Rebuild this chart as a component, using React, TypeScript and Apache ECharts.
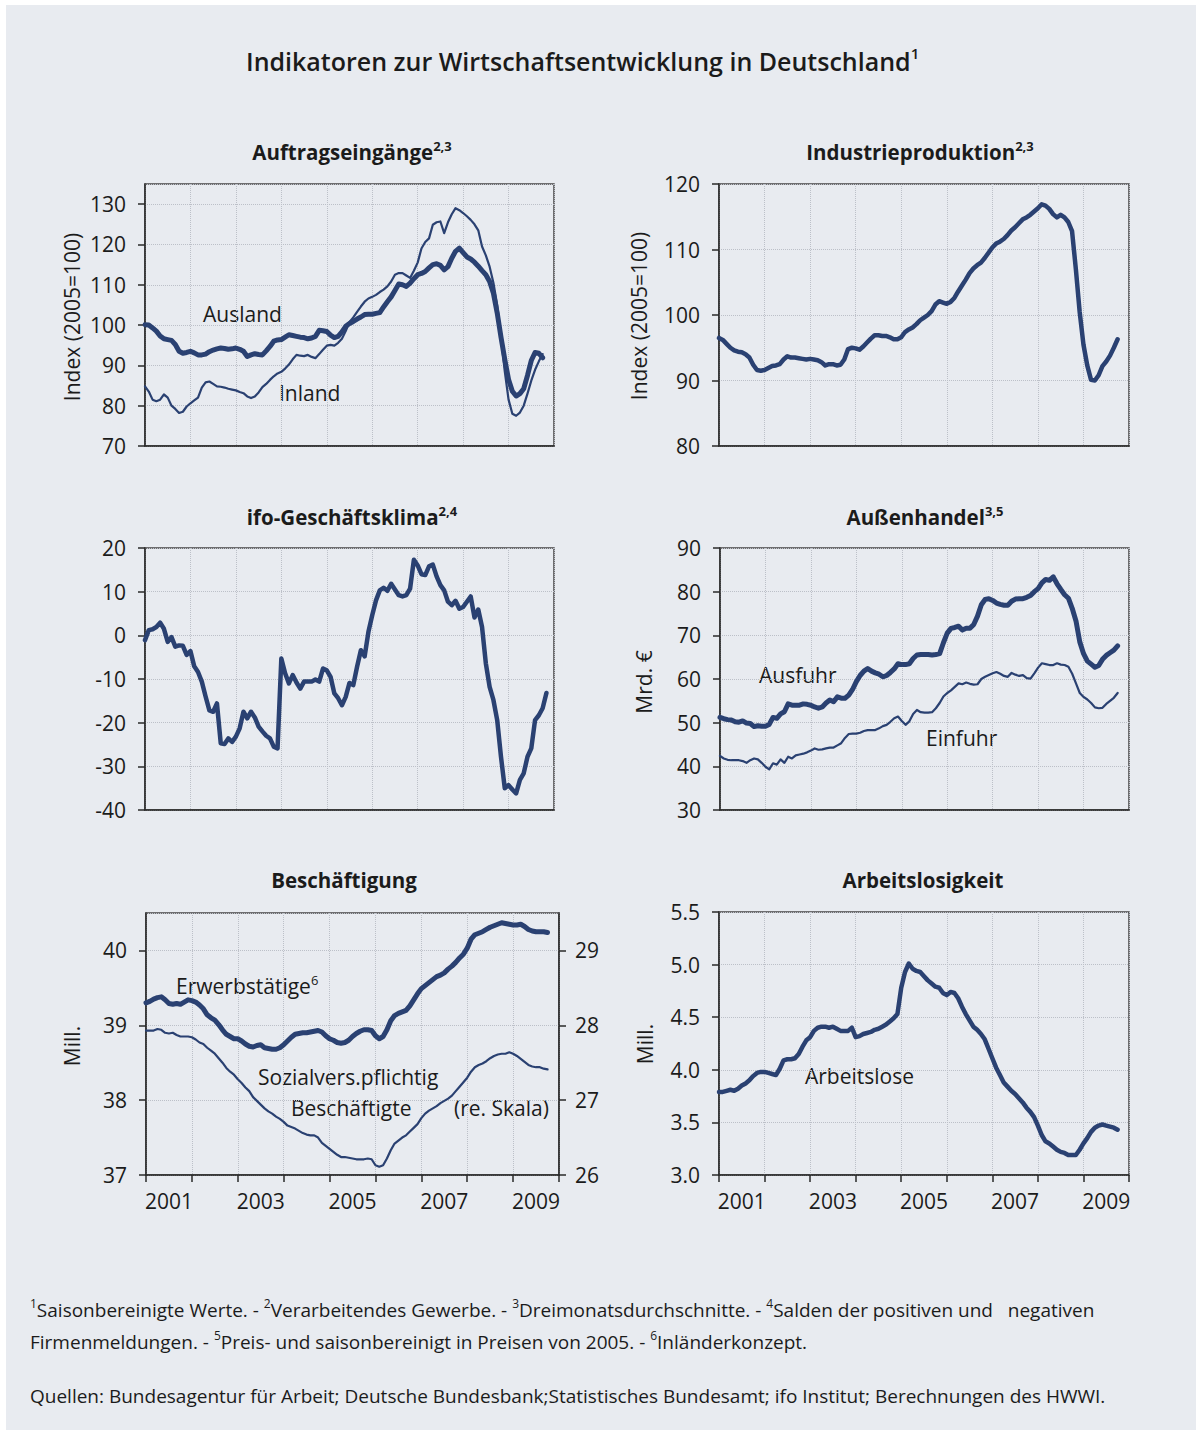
import React, { useEffect, useRef } from 'react';
import * as echarts from 'echarts';

const YEARS = ['2001', '2002', '2003', '2004', '2005', '2006', '2007', '2008', '2009'];

const AUSLAND = [100.1,100,99.3,98.5,97.3,96.6,96.4,96.2,95.2,93.5, 93,93.2,93.5,93.1,92.6,92.6,92.8,93.4,93.8,94.1, 94.3,94.2,94,94.1,94.3,94,93.5,92.2,92.6,92.9, 92.7,92.6,93.6,94.7,96,96.3,96.4,97,97.6,97.4, 97.2,97,96.9,96.6,96.8,97.2,98.7,98.6,98.4,97.5, 96.9,97.2,98.3,99.7,100.4,100.9,101.5,102,102.6,102.7, 102.7,102.9,103.1,104.5,105.8,107,108.6,110.2,110,109.6, 110.4,111.5,112.5,112.8,113.3,114.2,115,115.2,114.8,113.7, 114.5,116.6,118.3,119.1,118,116.9,116.4,115.6,114.6,113.5, 112.5,110.8,107.9,103,97,91.5,86.5,83.6,82.4,83, 84.2,87.5,91.2,93.2,93,91.9];
const INLAND = [84.8,83.5,81.5,81.1,81.5,82.8,82,80,79.2,78.2, 78.5,79.8,80.6,81.3,82,84.5,85.8,86,85.4,84.8, 84.7,84.5,84.2,84,83.8,83.4,83.1,82.3,81.9,82.3, 83.3,84.6,85.4,86.4,87.3,88,88.4,89.2,90.2,91.5, 92.6,92.4,92.3,92.6,92.1,91.8,92.8,93.9,94.9,95.1, 94.9,95.6,96.6,98.5,100.8,101.9,103.3,104.6,105.8,106.6, 107,107.5,108.2,108.8,109.6,110.8,112.5,112.9,112.9,112.3, 111.7,113.5,115.5,119,120.6,121.5,124.9,125.5,125.7,122.8, 125.5,127.5,129,128.5,127.8,127,126.1,125,123.5,119.5, 117.3,114.5,110.5,105,97,88.5,81.5,78,77.5,78.3, 80,83,86.2,88.9,91,92.8];
const INDUSTRIE = [96.5,96.2,95.6,95,94.6,94.4,94.3,94,93.5,92.4, 91.6,91.5,91.6,91.9,92.2,92.3,92.5,93.2,93.7,93.5, 93.5,93.4,93.3,93.2,93.3,93.2,93.1,92.8,92.3,92.5, 92.5,92.3,92.4,93.2,94.8,95,94.9,94.7,95.2,95.8, 96.4,96.9,96.9,96.8,96.8,96.6,96.3,96.3,96.6,97.4, 97.8,98.1,98.6,99.2,99.6,100,100.6,101.6,102.1,101.9, 101.7,102,102.6,103.6,104.5,105.4,106.4,107.1,107.6,108, 108.7,109.5,110.3,110.9,111.2,111.6,112.2,112.9,113.4,114, 114.6,114.9,115.3,115.8,116.3,116.9,116.7,116.2,115.4,114.9, 115.3,114.9,114.2,112.8,107,100.5,95.5,92.3,90.1,90, 90.8,92.2,92.9,93.8,95,96.3];
const IFO = [-1.1,1.2,1.4,1.9,2.9,1.5,-1.5,-0.4,-2.6,-2.3, -2.4,-4.5,-3.6,-7.1,-8.4,-10.6,-14,-17.2,-17.5,-15.6, -24.7,-24.9,-23.6,-24.4,-23.2,-21.3,-17.5,-19,-17.5,-18.8, -20.9,-22,-23,-23.6,-25.5,-25.9,-5.3,-8.7,-11,-9.1, -10.8,-12.2,-10.6,-10.6,-10.6,-10.1,-10.6,-7.6,-8,-9.5, -13.3,-14.4,-16,-14.1,-10.9,-11.4,-7.2,-3.4,-4.8,0.8, 4.6,8,10.3,10.9,10.2,11.8,10.5,9.2,8.9,9.2, 10.7,17.3,16,14,13.8,15.8,16.2,13.5,11.5,10.3, 7.7,6.9,7.9,6.1,6.5,7.7,8.9,4.1,5.9,1.9, -6.4,-11.8,-14.8,-19.4,-27.8,-35,-34.3,-35.3,-36.2,-33.1, -31.6,-27.8,-25.9,-19.4,-18.3,-16.7,-13.2];
const AUSFUHR = [51.2,50.9,50.7,50.6,50.2,50.1,50.4,49.9,49.8,49.1, 49.3,49.2,49.2,49.6,51.2,51,52,52.5,54.3,54, 54,54,54.3,54.2,54,53.6,53.3,53.6,54.5,55.2, 54.8,55.9,55.6,55.6,56.3,57.6,59.4,60.8,61.8,62.4, 61.8,61.4,61.1,60.5,60.8,61.5,62.3,63.5,63.3,63.3, 63.5,64.7,65.5,65.6,65.6,65.6,65.5,65.6,65.8,68.3, 70.5,71.6,71.8,72.1,71.2,71.6,71.6,72.5,74.4,77, 78.2,78.4,78,77.4,77.1,76.9,76.9,77.8,78.3,78.4, 78.4,78.7,79.1,80,80.7,82,82.8,82.6,83.4,81.8, 80.5,79.3,78.5,76.2,73.3,68.5,65.8,64.1,63.4,62.7, 63.1,64.5,65.4,66,66.6,67.6];
const EINFUHR = [42.4,41.8,41.5,41.4,41.4,41.4,41.2,40.8,41.4,41.8, 41.6,40.8,39.9,39.3,40.7,40.4,41.6,40.8,42.2,41.8, 42.5,42.7,42.9,43.2,43.6,44.1,43.8,43.9,44.1,44.3, 44.3,44.8,45.3,46.5,47.4,47.5,47.5,47.7,48.1,48.3, 48.3,48.3,48.7,49.2,49.5,50.2,51,51.4,50.4,49.5, 50.3,52,52.9,52.4,52.3,52.3,52.4,53.3,54.5,56, 56.8,57.4,58.2,59,58.8,59.2,58.9,58.7,58.8,60, 60.5,60.9,61.3,61.6,61.2,60.7,60.5,61.4,61,60.7, 60.9,60.2,60.1,61.3,62.6,63.6,63.4,63.2,63.2,63.6, 63.3,63.2,62.8,61.2,59,56.8,55.9,55.3,54.5,53.5, 53.3,53.4,54.3,55,55.7,56.8];
const ERWERB = [39.30,39.32,39.35,39.37,39.38,39.34,39.29,39.28,39.29,39.28, 39.31,39.34,39.33,39.31,39.27,39.22,39.14,39.1,39.07,39.01, 38.94,38.88,38.85,38.82,38.82,38.79,38.75,38.72,38.71,38.73, 38.74,38.7,38.69,38.68,38.68,38.7,38.74,38.79,38.84,38.88, 38.89,38.9,38.9,38.91,38.92,38.93,38.91,38.86,38.82,38.8, 38.77,38.76,38.77,38.8,38.85,38.89,38.92,38.94,38.94,38.93, 38.86,38.82,38.85,38.94,39.06,39.13,39.16,39.18,39.2,39.26, 39.34,39.42,39.49,39.53,39.57,39.61,39.65,39.67,39.7,39.75, 39.79,39.84,39.9,39.95,40.03,40.15,40.21,40.23,40.25,40.28, 40.31,40.33,40.35,40.37,40.36,40.35,40.34,40.34,40.35,40.32, 40.28,40.26,40.25,40.25,40.25,40.24];
const SOZIAL = [27.93,27.93,27.93,27.95,27.94,27.9,27.89,27.9,27.87,27.85, 27.85,27.85,27.84,27.81,27.77,27.75,27.7,27.66,27.62,27.56, 27.5,27.43,27.38,27.34,27.28,27.23,27.17,27.12,27.04,26.99, 26.94,26.89,26.85,26.82,26.78,26.75,26.71,26.66,26.64,26.62, 26.59,26.56,26.54,26.53,26.53,26.5,26.43,26.39,26.35,26.31, 26.27,26.24,26.24,26.23,26.22,26.21,26.21,26.21,26.22,26.21, 26.13,26.11,26.13,26.22,26.33,26.42,26.46,26.5,26.53,26.58, 26.63,26.68,26.76,26.82,26.86,26.89,26.92,26.96,26.99,27.02, 27.06,27.12,27.18,27.24,27.3,27.38,27.44,27.47,27.49,27.52, 27.56,27.59,27.61,27.62,27.62,27.64,27.62,27.59,27.55,27.51, 27.47,27.45,27.44,27.44,27.42,27.41];
const ARBEITSLOSE = [3.79,3.79,3.8,3.81,3.8,3.82,3.85,3.87,3.9,3.94, 3.97,3.98,3.98,3.97,3.96,3.95,4.01,4.09,4.1,4.1, 4.11,4.15,4.22,4.28,4.31,4.37,4.4,4.41,4.41,4.4, 4.41,4.39,4.37,4.37,4.37,4.4,4.31,4.32,4.34,4.35, 4.36,4.38,4.39,4.41,4.43,4.46,4.49,4.53,4.78,4.93, 5.01,4.96,4.94,4.93,4.89,4.85,4.82,4.79,4.78,4.73, 4.71,4.74,4.73,4.68,4.6,4.53,4.47,4.41,4.38,4.34, 4.29,4.2,4.11,4.02,3.95,3.88,3.84,3.8,3.77,3.73, 3.69,3.64,3.6,3.55,3.47,3.38,3.32,3.3,3.27,3.24, 3.22,3.21,3.19,3.19,3.19,3.24,3.3,3.35,3.41,3.45, 3.47,3.48,3.47,3.46,3.45,3.43];

const LINE = '#2a4172';
const FONT = '"Open Sans", "Noto Sans", sans-serif';
const TXT = '#1b1b1b';
const AXIS = '#2a2a2a';
const GRIDLINE = '#bcc0c8';

const GRIDS = [
  { left: 145, top: 184, width: 409, height: 262 },
  { left: 719, top: 184, width: 410, height: 262 },
  { left: 145, top: 548, width: 409, height: 262 },
  { left: 720, top: 548, width: 409, height: 262 },
  { left: 146, top: 913, width: 413, height: 262 },
  { left: 719, top: 912, width: 410, height: 263 },
];

function buildOption() {
  const grid = GRIDS.map((g) => ({
    ...g,
    show: true,
    borderColor: '#444',
    borderWidth: 1.5,
    backgroundColor: 'transparent',
  }));

  const xAxis: any[] = [];
  GRIDS.forEach((_, g) => {
    const bottom = g >= 4;
    xAxis.push({
      type: 'category',
      gridIndex: g,
      position: 'bottom',
      data: YEARS,
      boundaryGap: true,
      axisLine: { show: true, onZero: false, lineStyle: { color: AXIS, width: 1.5 } },
      axisTick: { show: bottom, interval: 0, length: 7, lineStyle: { color: AXIS, width: 1.5 } },
      axisLabel: { show: bottom, interval: 1, fontSize: 21, color: TXT, fontFamily: FONT, margin: 15 },
      splitLine: { show: true, interval: 0, lineStyle: { color: GRIDLINE, type: 'dotted', width: 1 } },
    });
    xAxis.push({ type: 'value', gridIndex: g, min: 0, max: 108, show: false, axisLine: { onZero: false } });
  });

  const yBase = (g: number, min: number, max: number, interval: number, extra: any = {}) => ({
    type: 'value',
    gridIndex: g,
    min,
    max,
    interval,
    axisLine: { show: true, onZero: false, lineStyle: { color: AXIS, width: 1.5 } },
    axisTick: { show: true, length: 7, lineStyle: { color: AXIS, width: 1.5 } },
    axisLabel: { fontSize: 21, color: TXT, fontFamily: FONT, margin: 19, ...(extra.axisLabel || {}) },
    splitLine: { show: true, lineStyle: { color: GRIDLINE, type: 'dotted', width: 1 } },
    ...(extra.rest || {}),
  });

  const yAxis = [
    yBase(0, 70, 135, 10, { axisLabel: { showMaxLabel: false } }),
    yBase(1, 80, 120, 10),
    yBase(2, -40, 20, 10),
    yBase(3, 30, 90, 10),
    yBase(4, 37, 40.5, 1, { axisLabel: { showMaxLabel: false } }),
    yBase(4, 26, 29.5, 1, {
      axisLabel: { showMaxLabel: false, margin: 16 },
      rest: { position: 'right', splitLine: { show: false } },
    }),
    yBase(5, 3, 5.5, 0.5, { axisLabel: { formatter: (v: number) => v.toFixed(1) } }),
  ];

  const line = (data: number[], g: number, yi: number, width: number) => ({
    type: 'line',
    xAxisIndex: 2 * g + 1,
    yAxisIndex: yi,
    data: data.map((v, i) => [i, v]),
    showSymbol: false,
    symbol: 'none',
    silent: true,
    lineStyle: { color: LINE, width, join: 'round', cap: 'round' },
    itemStyle: { color: LINE },
    z: 3,
  });

  const series = [
    line(INLAND, 0, 0, 2.2),
    line(AUSLAND, 0, 0, 5),
    line(INDUSTRIE, 1, 1, 4.5),
    line(IFO, 2, 2, 4.5),
    line(EINFUHR, 3, 3, 2.2),
    line(AUSFUHR, 3, 3, 5),
    line(SOZIAL, 4, 5, 2.2),
    line(ERWERB, 4, 4, 5),
    line(ARBEITSLOSE, 5, 6, 4.5),
  ];

  const text = (x: number, y: number, t: string, o: any = {}) => ({
    type: 'text',
    x,
    y,
    silent: true,
    rotation: o.rotation || 0,
    style: {
      text: t,
      fontFamily: FONT,
      fontSize: o.fontSize || 21,
      fontWeight: o.fontWeight || 'normal',
      fill: TXT,
      align: o.align || 'left',
      textAlign: o.align || 'left',
      verticalAlign: 'middle',
      textVerticalAlign: 'middle',
      rich: o.rich,
    },
  });

  const titleRich = (size: number, sup: number, weight: any) => ({
    t: { fontSize: size, fontWeight: weight, fontFamily: FONT, fill: TXT, color: TXT, lineHeight: size * 1.25 },
    s: { fontSize: sup, fontWeight: weight, fontFamily: FONT, fill: TXT, color: TXT, verticalAlign: 'top', lineHeight: sup * 1.2 },
  });
  const pt = (x: number, y: number, main: string, sup?: string) =>
    text(x, y, sup ? `{t|${main}}{s|${sup}}` : `{t|${main}}`, { align: 'center', rich: titleRich(20.5, 13, 'bold') });

  const fnRich = {
    t: { fontSize: 19, fontFamily: FONT, fill: TXT, color: TXT, lineHeight: 25 },
    s: { fontSize: 12, fontFamily: FONT, fill: TXT, color: TXT, verticalAlign: 'top', lineHeight: 14 },
  };

  const graphic = [
    { type: 'rect', silent: true, shape: { x: 0, y: 0, width: 1198, height: 5 }, style: { fill: '#ffffff' } },
    { type: 'rect', silent: true, shape: { x: 0, y: 0, width: 6, height: 1431 }, style: { fill: '#ffffff' } },
    { type: 'rect', silent: true, shape: { x: 1196, y: 0, width: 2, height: 1431 }, style: { fill: '#ffffff' } },
    { type: 'rect', silent: true, shape: { x: 0, y: 1430, width: 1198, height: 1 }, style: { fill: '#ffffff' } },
    text(246, 61, '{t|Indikatoren zur Wirtschaftsentwicklung in Deutschland}{s|1}', { rich: titleRich(25, 15, 600) }),
    pt(352, 152, 'Auftragseingänge', '2,3'),
    pt(920, 152, 'Industrieproduktion', '2,3'),
    pt(352, 517, 'ifo-Geschäftsklima', '2,4'),
    pt(925, 517, 'Außenhandel', '3,5'),
    pt(344, 880, 'Beschäftigung'),
    pt(923, 880, 'Arbeitslosigkeit'),
    text(72, 317, 'Index (2005=100)', { rotation: Math.PI / 2, align: 'center', fontSize: 21 }),
    text(639, 316, 'Index (2005=100)', { rotation: Math.PI / 2, align: 'center', fontSize: 21 }),
    text(644, 682, 'Mrd. €', { rotation: Math.PI / 2, align: 'center', fontSize: 21 }),
    text(72, 1046, 'Mill.', { rotation: Math.PI / 2, align: 'center', fontSize: 21 }),
    text(645, 1044, 'Mill.', { rotation: Math.PI / 2, align: 'center', fontSize: 21 }),
    text(203, 314, 'Ausland'),
    text(279, 393, 'Inland'),
    text(759, 675, 'Ausfuhr'),
    text(926, 738, 'Einfuhr'),
    text(176, 986, '{t|Erwerbstätige}{s|6}', {
      rich: {
        t: { fontSize: 21, fontFamily: FONT, fill: TXT, color: TXT, lineHeight: 26 },
        s: { fontSize: 13, fontFamily: FONT, fill: TXT, color: TXT, verticalAlign: 'top', lineHeight: 15 },
      },
    }),
    text(258, 1077, 'Sozialvers.pflichtig'),
    text(291, 1108, 'Beschäftigte'),
    text(454, 1108, '(re. Skala)'),
    text(805, 1076, 'Arbeitslose'),
    text(30, 1310, '{s|1}{t|Saisonbereinigte Werte. - }{s|2}{t|Verarbeitendes Gewerbe. - }{s|3}{t|Dreimonatsdurchschnitte. - }{s|4}{t|Salden der positiven und   negativen}', { rich: fnRich }),
    text(30, 1342, '{t|Firmenmeldungen. - }{s|5}{t|Preis- und saisonbereinigt in Preisen von 2005. - }{s|6}{t|Inländerkonzept.}', { rich: fnRich }),
    text(30, 1396, '{t|Quellen: Bundesagentur für Arbeit; Deutsche Bundesbank;Statistisches Bundesamt; ifo Institut; Berechnungen des HWWI.}', { rich: fnRich }),
  ];

  return {
    animation: false,
    backgroundColor: '#e8ebf0',
    textStyle: { fontFamily: FONT, color: TXT },
    grid,
    xAxis,
    yAxis,
    series,
    graphic,
  };
}

export default function App() {
  const ref = useRef<HTMLDivElement>(null);
  useEffect(() => {
    if (!ref.current) return;
    const chart = echarts.init(ref.current, null, { renderer: 'svg' });
    chart.setOption(buildOption() as any);
    return () => chart.dispose();
  }, []);
  return (
    <div
      ref={ref}
      style={{ position: 'absolute', left: 0, top: 0, width: 1198, height: 1431 }}
    />
  );
}
